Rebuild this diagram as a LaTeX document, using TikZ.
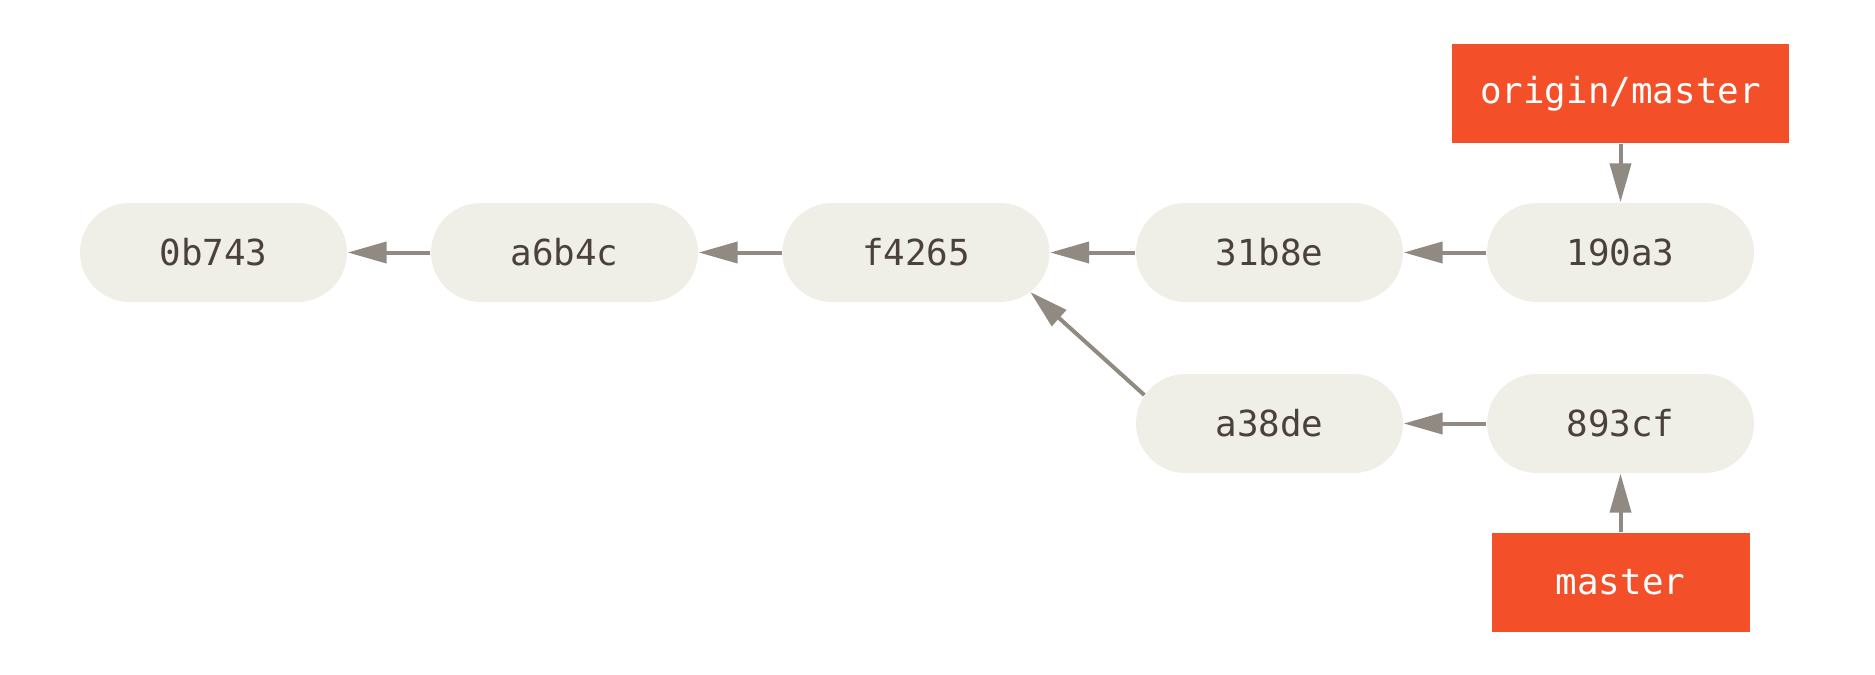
\documentclass[tikz,border=0pt]{standalone}
\usepackage{fontspec}
\setmonofont{DejaVu Sans Mono}
\usepackage{tikz}
\usetikzlibrary{arrows.meta}
\usetikzlibrary{calc}

\definecolor{commitfill}{HTML}{EFEEE7}
\definecolor{committext}{HTML}{4A413A}
\definecolor{branchred}{HTML}{F34F29}
\definecolor{arrowgray}{HTML}{918A82}

\tikzset{
  commit/.style={rectangle, rounded corners=0.495cm, fill=commitfill, text=committext,
    minimum width=2.67cm, minimum height=0.99cm, inner sep=0pt,
    font=\ttfamily\fontsize{10.2pt}{12pt}\selectfont},
  branchbox/.style={rectangle, fill=branchred, text=white, minimum height=0.99cm, inner sep=0pt,
    font=\ttfamily\fontsize{10.2pt}{12pt}\selectfont},
  parent/.style={draw=arrowgray, line width=0.04cm,
    -{Triangle[length=0.39cm, width=0.21cm, fill=arrowgray]}}
}

\begin{document}
\begin{tikzpicture}
\useasboundingbox (0,0) rectangle (18.75,-6.75);

% commits
\node[commit] (c0b743) at (2.135,-2.525) {0b743};
\node[commit] (ca6b4c) at (5.645,-2.525) {a6b4c};
\node[commit] (cf4265) at (9.16,-2.525) {f4265};
\node[commit] (c31b8e) at (12.695,-2.525) {31b8e};
\node[commit] (c190a3) at (16.205,-2.525) {190a3};
\node[commit] (ca38de) at (12.695,-4.235) {a38de};
\node[commit] (c893cf) at (16.205,-4.235) {893cf};

% branches
\node[branchbox, minimum width=3.37cm] (origin) at (16.205,-0.935) {origin/master};
\node[branchbox, minimum width=2.58cm] (master) at (16.205,-5.825) {master};

\draw[parent] (ca6b4c) -- (c0b743);
\draw[parent] (cf4265) -- (ca6b4c);
\draw[parent] (c31b8e) -- (cf4265);
\draw[parent] (c190a3) -- (c31b8e);
\draw[parent] (c893cf) -- (ca38de);
\draw[parent] ([shift={(0.09,0.285)}]ca38de.west) -- ([shift={(-0.2,-0.395)}]cf4265.east);

\draw[parent] (origin) -- (c190a3);
\draw[parent] (master) -- (c893cf);
\end{tikzpicture}
\end{document}
